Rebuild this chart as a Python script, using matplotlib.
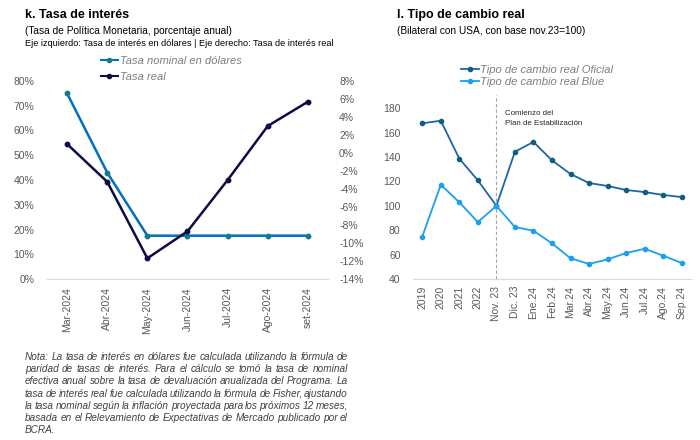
import matplotlib

matplotlib.use("Agg")
import matplotlib.pyplot as plt  # noqa: E402
from matplotlib.lines import Line2D  # noqa: E402

plt.rcParams["font.family"] = ["Liberation Sans", "DejaVu Sans"]

# --- data -------------------------------------------------------------
months_k = ["Mar-2024", "Abr-2024", "May-2024", "Jun-2024", "Jul-2024",
            "Ago-2024", "set-2024"]
tasa_nominal = [75.0, 43.0, 17.5, 17.5, 17.5, 17.5, 17.5]
tasa_real = [1.0, -3.2, -11.7, -8.7, -3.0, 3.0, 5.7]

periods_l = ["2019", "2020", "2021", "2022", "Nov. 23", "Dic. 23", "Ene.24",
             "Feb.24", "Mar.24", "Abr.24", "May.24", "Jun.24", "Jul.24",
             "Ago.24", "Sep.24"]
tcr_oficial = [167.7, 169.8, 138.7, 120.9, 100.0, 144.4, 152.4, 137.3, 126.1,
               118.7, 116.3, 113.0, 111.3, 108.9, 107.2]
tcr_blue = [74.7, 117.3, 102.9, 86.7, 100.0, 82.6, 79.6, 69.2, 57.0, 52.3,
            56.1, 61.3, 64.8, 59.1, 53.1]

nota_lines = [
    "Nota: La tasa de interés en dólares fue calculada utilizando la fórmula de",
    "paridad de tasas de interés. Para el cálculo se tomó la tasa de nominal",
    "efectiva anual sobre la tasa de devaluación anualizada del Programa. La",
    "tasa de interés real fue calculada utilizando la fórmula de Fisher, ajustando",
    "la tasa nominal según la inflación proyectada para los próximos 12 meses,",
    "basada en el Relevamiento de Expectativas de Mercado publicado por el",
    "BCRA.",
]

TICK = "#595959"
NOM_LINE, NOM_MK = "#0070C0", "#157A8E"
REAL = "#0C0C48"
OFI_LINE, OFI_MK = "#1D64A8", "#0E5F7E"
BLUE = "#1AA0EE"

W, H = 700, 440
fig = plt.figure(figsize=(7, 4.4), dpi=100)


def fx(px):
    return px / W


def fy(py):
    return 1 - py / H


def style_axis(ax):
    for s in ("left", "right", "top"):
        ax.spines[s].set_visible(False)
    ax.spines["bottom"].set_color("#d9d9d9")
    ax.tick_params(length=0, colors=TICK, labelsize=7.5)


# --- left chart -------------------------------------------------------
ax1 = fig.add_axes([fx(47), fy(279), fx(281), (279 - 81) / H])
x_k = range(len(months_k))
ax1.plot(x_k, tasa_nominal, color=NOM_LINE, lw=1.8, marker="o", ms=3.2,
         mfc=NOM_MK, mec=NOM_MK, zorder=3)
ax1.set_ylim(0, 80)
ax1.set_xlim(-0.5, 6.5)
ax1.set_yticks(range(0, 81, 10))
ax1.set_yticklabels([f"{v}%" for v in range(0, 81, 10)])
ax1.set_xticks(list(x_k))
ax1.set_xticklabels(months_k, rotation=90)
style_axis(ax1)
ax1.tick_params(axis="y", pad=9)
ax1.tick_params(axis="x", pad=6)

ax1b = ax1.twinx()
ax1b.plot(x_k, tasa_real, color=REAL, lw=1.8, marker="o", ms=3.2, zorder=3)
ax1b.set_ylim(-14, 8)
ax1b.set_yticks(range(-14, 9, 2))
ax1b.set_yticklabels([f"{v}%" for v in range(-14, 9, 2)])
style_axis(ax1b)
ax1b.spines["bottom"].set_visible(False)
ax1b.tick_params(axis="y", pad=8)

fig.text(fx(25), fy(15), "k. Tasa de interés", fontsize=9, weight="bold",
         va="center")
fig.text(fx(25), fy(31), "(Tasa de Política Monetaria, porcentaje anual)",
         fontsize=7.3, va="center")
fig.text(fx(25), fy(44), "Eje izquierdo: Tasa de interés en dólares | "
         "Eje derecho: Tasa de interés real", fontsize=6.6, va="center")

h_nom = Line2D([], [], color=NOM_LINE, lw=1.5, marker="o", ms=3,
               mfc=NOM_MK, mec=NOM_MK)
h_real = Line2D([], [], color=REAL, lw=1.5, marker="o", ms=3)
fig.legend([h_nom, h_real], ["Tasa nominal en dólares", "Tasa real"],
           loc="upper left", bbox_to_anchor=(fx(95), fy(50)), frameon=False,
           handlelength=1.6, handletextpad=0.15, labelspacing=0.55,
           borderpad=0, labelcolor="#7f7f7f",
           prop={"style": "italic", "size": 8})

# justified footnote
renderer = fig.canvas.get_renderer()
x0, x1 = 25, 348
for i, line in enumerate(nota_lines):
    y = fy(357 + i * 12.2)
    words = line.split(" ")
    if i == len(nota_lines) - 1:
        fig.text(fx(x0), y, line, fontsize=7.2, style="italic", color="#404040",
                 va="center")
        continue
    arts = [fig.text(0, y, w, fontsize=7.2, style="italic", color="#404040",
                     va="center") for w in words]
    widths = [a.get_window_extent(renderer).width for a in arts]
    gap = (x1 - x0 - sum(widths)) / (len(words) - 1)
    pos = x0
    for a, wd in zip(arts, widths):
        a.set_x(fx(pos))
        pos += wd + gap

# --- right chart ------------------------------------------------------
ax2 = fig.add_axes([fx(413), fy(279), fx(278), (279 - 108.3) / H])
x_l = range(len(periods_l))
ax2.plot(x_l, tcr_oficial, color=OFI_LINE, lw=1.3, marker="o", ms=3,
         mfc=OFI_MK, mec=OFI_MK, zorder=3)
ax2.plot(x_l, tcr_blue, color=BLUE, lw=1.3, marker="o", ms=3, zorder=3)
ax2.set_ylim(40, 180)
ax2.set_xlim(-0.5, 14.5)
ax2.set_yticks(range(40, 181, 20))
ax2.set_xticks(list(x_l))
ax2.set_xticklabels(periods_l, rotation=90)
style_axis(ax2)
ax2.tick_params(axis="y", pad=9)
ax2.tick_params(axis="x", pad=5)

nov = periods_l.index("Nov. 23")
ax2.plot([nov, nov], [40, 191], color="#a6a6a6", lw=0.8, ls=(0, (3, 2)),
         clip_on=False, zorder=1)
ax2.text(nov + 0.45, 172, "Comienzo del\nPlan de Estabilización",
         fontsize=5.7, color="#262626", va="center", linespacing=1.6)

fig.text(fx(397), fy(15), "l. Tipo de cambio real", fontsize=9,
         weight="bold", va="center")
fig.text(fx(397), fy(31), "(Bilateral con USA, con base nov.23=100)",
         fontsize=7.3, va="center")

h_ofi = Line2D([], [], color=OFI_LINE, lw=1.3, marker="o", ms=3,
               mfc=OFI_MK, mec=OFI_MK)
h_blue = Line2D([], [], color=BLUE, lw=1.3, marker="o", ms=3)
fig.legend([h_ofi, h_blue],
           ["Tipo de cambio real Oficial", "Tipo de cambio real Blue"],
           loc="upper left", bbox_to_anchor=(fx(455), fy(59)), frameon=False,
           handlelength=1.6, handletextpad=0.15, labelspacing=0.2,
           borderpad=0, labelcolor="#7f7f7f",
           prop={"style": "italic", "size": 8.1})

fig.savefig("out.png", dpi=100)
plt.close(fig)
